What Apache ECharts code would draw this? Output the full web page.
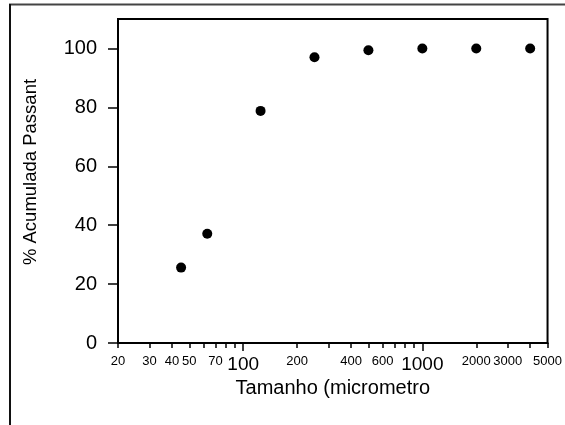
<!DOCTYPE html>
<html>
<head>
<meta charset="utf-8">
<script src="https://cdn.jsdelivr.net/npm/echarts@6/dist/echarts.min.js"></script>
<style>html,body{margin:0;padding:0;background:#fff}#c{width:565px;height:425px}</style>
</head>
<body>
<div id="c"></div>
<script>
const sizes = [45, 63, 125, 250, 500, 1000, 2000, 4000];
const passant = [25.6, 37.1, 78.8, 97.0, 99.4, 100.0, 100.0, 100.0];
const xTicks = [20, 30, 40, 50, 60, 70, 80, 90, 100, 200, 300, 400, 500, 600, 700, 800, 900, 1000, 2000, 3000, 4000, 5000];
const xMajorTicks = [100, 1000];
const xLabels = [20, 30, 40, 50, 70, 100, 200, 400, 600, 1000, 2000, 3000, 5000];
const bigLabels = [100, 1000];
const yTicks = [0, 20, 40, 60, 80, 100];
const xTitle = 'Tamanho (micrometro';
const yTitle = '% Acumulada Passant';

const chart = echarts.init(document.getElementById('c'), null, {renderer: 'canvas'});
const FONT = 'Liberation Sans, Arial, sans-serif';
chart.setOption({
  animation: false,
  backgroundColor: '#fff',
  grid: {left: 118, top: 19, right: 16, bottom: 82, show: true, borderColor: '#000', borderWidth: 2, backgroundColor: 'transparent'},
  graphic: [
    {type: 'line', shape: {x1: 9, y1: 4.5, x2: 565, y2: 4.5}, style: {stroke: '#444', lineWidth: 2}},
    {type: 'line', shape: {x1: 10, y1: 4, x2: 10, y2: 425}, style: {stroke: '#111', lineWidth: 2}}
  ],
  xAxis: [{
    type: 'log', logBase: 10, min: 20, max: 5000, position: 'bottom',
    name: xTitle, nameLocation: 'middle', nameGap: 33,
    nameTextStyle: {fontFamily: FONT, fontSize: 20, color: '#000'},
    axisLine: {show: true, lineStyle: {color: '#000', width: 2}},
    axisTick: {show: true, inside: false, length: 5, customValues: xTicks, lineStyle: {color: '#000', width: 1.5}},
    minorTick: {show: false},
    splitLine: {show: false},
    axisLabel: {
      customValues: xLabels, margin: 12, color: '#000', fontFamily: FONT, hideOverlap: false,
      formatter: function (v) { return bigLabels.indexOf(Math.round(v)) >= 0 ? '{b|' + Math.round(v) + '}' : '{s|' + Math.round(v) + '}'; },
      rich: {
        s: {fontSize: 13, fontFamily: FONT, color: '#000', lineHeight: 14, verticalAlign: 'top'},
        b: {fontSize: 19, fontFamily: FONT, color: '#000', lineHeight: 19, verticalAlign: 'top'}
      }
    }
  }, {
    type: 'log', logBase: 10, min: 20, max: 5000, position: 'bottom', offset: 0,
    axisLine: {show: false},
    axisTick: {show: true, inside: false, length: 8, customValues: xMajorTicks, lineStyle: {color: '#000', width: 1.5}},
    axisLabel: {show: false},
    splitLine: {show: false}
  }],
  yAxis: {
    type: 'value', min: 0, max: 110, interval: 20,
    name: yTitle, nameLocation: 'middle', nameGap: 78, nameRotate: 90,
    nameTextStyle: {fontFamily: FONT, fontSize: 18.5, color: '#000', padding: [0, 0, 0, 18]},
    axisLine: {show: true, lineStyle: {color: '#000', width: 2}},
    axisTick: {show: true, inside: false, length: 10, customValues: yTicks, lineStyle: {color: '#000', width: 1.5}},
    splitLine: {show: false},
    axisLabel: {customValues: yTicks, margin: 21, color: '#000', fontFamily: FONT, fontSize: 20}
  },
  series: [{
    type: 'scatter',
    xAxisIndex: 0,
    data: sizes.map((s, i) => [s, passant[i]]),
    symbol: 'circle', symbolSize: 10,
    itemStyle: {color: '#000', opacity: 1}
  }]
});
</script>
</body>
</html>
